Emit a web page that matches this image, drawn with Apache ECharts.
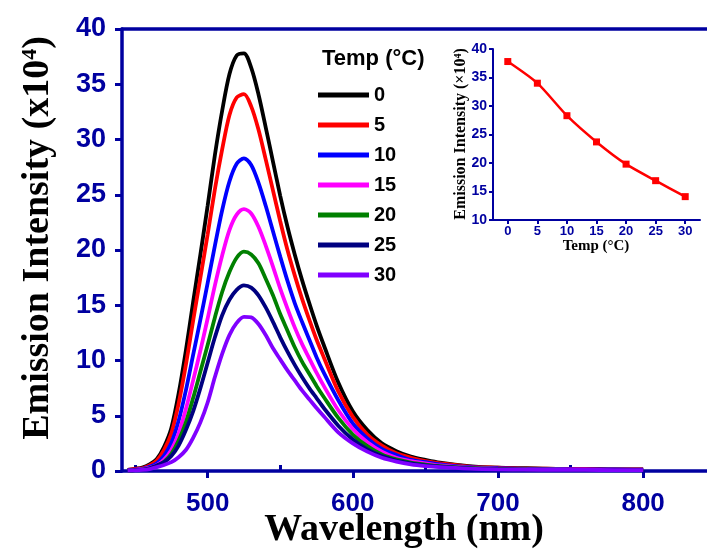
<!DOCTYPE html>
<html><head><meta charset="utf-8">
<script src="https://cdn.jsdelivr.net/npm/echarts@6/dist/echarts.min.js"></script>
<style>html,body{margin:0;padding:0;background:#fff}#c{width:707px;height:556px}</style>
</head><body><div id="c"></div>
<script>
// ---- data ----
const wavelengths = [445,450,455,460,465,470,475,480,485,490,495,500,505,510,515,520,525,530,535,540,545,550,555,560,565,570,575,580,590,600,610,620,630,640,650,660,680,700,720,740,760,780,800];
const temps = ['0','5','10','15','20','25','30'];
const int0  = [0.1,0.2,0.3,0.6,1.1,2.2,3.9,7.0,10.9,15.3,19.6,24.0,28.6,32.6,35.9,37.6,37.8,36.5,34.1,31.1,28.0,24.9,22.1,19.6,17.3,15.2,13.2,11.4,8.0,5.4,3.7,2.5,1.8,1.3,1.0,0.75,0.45,0.3,0.25,0.2,0.2,0.15,0.15];
const int5  = [0.1,0.2,0.25,0.5,0.95,1.9,3.4,6.1,9.6,13.6,17.5,21.4,25.5,29.1,32.2,33.8,34.1,33.0,30.9,28.2,25.4,22.6,20.0,17.7,15.6,13.7,11.9,10.3,7.2,4.9,3.3,2.3,1.6,1.2,0.9,0.7,0.4,0.3,0.22,0.2,0.18,0.15,0.15];
const int10 = [0.1,0.13,0.2,0.38,0.7,1.4,2.55,4.55,7.3,10.5,13.7,17.0,20.4,23.6,26.2,27.8,28.3,27.7,26.1,24.0,21.7,19.4,17.2,15.2,13.5,11.9,10.3,8.9,6.4,4.3,2.95,2.0,1.45,1.0,0.8,0.6,0.35,0.25,0.2,0.18,0.15,0.15,0.12];
const int15 = [0.06,0.1,0.16,0.28,0.53,1.03,1.9,3.4,5.6,8.2,10.9,13.8,16.8,19.5,21.8,23.2,23.7,23.3,22.1,20.4,18.5,16.5,14.7,13.0,11.5,10.2,8.9,7.7,5.5,3.8,2.6,1.75,1.2,0.9,0.7,0.5,0.3,0.2,0.16,0.14,0.12,0.1,0.1];
const int20 = [0.05,0.08,0.13,0.25,0.45,0.85,1.55,2.75,4.4,6.6,9.0,11.4,13.9,16.2,18.0,19.3,19.85,19.6,18.8,17.4,15.9,14.2,12.7,11.2,9.9,8.8,7.7,6.7,4.8,3.3,2.25,1.5,1.05,0.76,0.58,0.44,0.27,0.18,0.14,0.12,0.1,0.1,0.1];
const int25 = [0.05,0.08,0.13,0.25,0.5,0.8,1.35,2.3,3.7,5.4,7.5,9.8,12.1,14.1,15.5,16.4,16.8,16.6,15.9,14.8,13.5,12.1,10.8,9.6,8.5,7.5,6.6,5.7,4.1,2.85,1.95,1.35,0.95,0.7,0.5,0.4,0.24,0.16,0.13,0.11,0.1,0.09,0.09];
const int30 = [0.05,0.06,0.1,0.18,0.35,0.55,0.8,1.25,1.9,3.0,4.4,6.2,8.5,10.6,12.3,13.4,13.95,13.9,13.3,12.3,11.1,10.1,9.1,8.2,7.3,6.5,5.7,4.95,3.5,2.5,1.75,1.2,0.85,0.6,0.45,0.35,0.22,0.15,0.12,0.1,0.1,0.08,0.08];
const xTickLabels = [500,600,700,800];
const xMinorTicks = [450,550,650,750];
const insetTemps = [0,5,10,15,20,25,30];
const insetPeak = [37.8,34.0,28.3,23.7,19.8,16.9,14.1];

// ---- styling ----
const seriesVals = [int0,int5,int10,int15,int20,int25,int30];
const colors = ['#000000','#ff0000','#0000ff','#ff00ff','#008000','#000080','#8000ff'];
const AX = '#0000a0';
const SANS = 'Liberation Sans';
const SERIF = 'Liberation Serif';
const XMIN = 441, XMAX = 844;

const chart = echarts.init(document.getElementById('c'), null, {renderer:'canvas'});

const series = temps.map((t,i)=>({
  type:'line', name:t, xAxisIndex:0, yAxisIndex:0,
  data: wavelengths.map((w,j)=>[w, seriesVals[i][j]]),
  symbol:'none', showSymbol:false, smooth:0.3,
  lineStyle:{width:3.8, color:colors[i]}, itemStyle:{color:colors[i]},
  z: 2 + i
}));
series.push({
  type:'line', name:'inset', xAxisIndex:3, yAxisIndex:1,
  data: insetTemps.map((t,i)=>[t, insetPeak[i]]),
  symbol:'rect', symbolSize:7, smooth:0.25,
  lineStyle:{width:2.5, color:'#ff0000'}, itemStyle:{color:'#ff0000'}
});

const option = {
  animation:false,
  backgroundColor:'#ffffff',
  grid:[
    {left:122, top:29, right:0, bottom:85, outerBoundsMode:'none'},
    {left:493, top:49, width:207, height:171, outerBoundsMode:'none'}
  ],
  xAxis:[
    {type:'value', gridIndex:0, position:'bottom', min:XMIN, max:XMAX,
     axisLine:{show:true, onZero:false, lineStyle:{color:AX, width:3.5}},
     axisTick:{show:true, customValues:xTickLabels, length:7, lineStyle:{color:AX, width:3}},
     axisLabel:{show:true, customValues:xTickLabels, margin:20, color:AX, fontFamily:SANS, fontWeight:'bold', fontSize:26},
     splitLine:{show:false}},
    {type:'value', gridIndex:0, position:'bottom', min:XMIN, max:XMAX,
     axisLine:{show:false, onZero:false},
     axisTick:{show:true, inside:true, customValues:xMinorTicks, length:6, lineStyle:{color:AX, width:3}},
     axisLabel:{show:false}, splitLine:{show:false}},
    {type:'value', gridIndex:0, position:'top', min:XMIN, max:XMAX,
     axisLine:{show:true, onZero:false, lineStyle:{color:AX, width:3.5}},
     axisTick:{show:false}, axisLabel:{show:false}, splitLine:{show:false}},
    {type:'value', gridIndex:1, position:'bottom', min:-2.5, max:32.5,
     axisLine:{show:true, onZero:false, lineStyle:{color:AX, width:2}},
     axisTick:{show:true, customValues:insetTemps, length:4, lineStyle:{color:AX, width:2}},
     axisLabel:{show:true, customValues:insetTemps, margin:5, color:AX, fontFamily:SANS, fontWeight:'bold', fontSize:13},
     splitLine:{show:false}}
  ],
  yAxis:[
    {type:'value', gridIndex:0, min:0, max:40, interval:5,
     axisLine:{show:true, onZero:false, lineStyle:{color:AX, width:3.5}},
     axisTick:{show:true, length:7, lineStyle:{color:AX, width:3}},
     axisLabel:{margin:16, color:AX, fontFamily:SANS, fontWeight:'bold', fontSize:27},
     splitLine:{show:false}},
    {type:'value', gridIndex:1, min:10, max:40, interval:5,
     axisLine:{show:true, onZero:false, lineStyle:{color:AX, width:2}},
     axisTick:{show:true, length:4, lineStyle:{color:AX, width:2}},
     axisLabel:{margin:6, color:AX, fontFamily:SANS, fontWeight:'bold', fontSize:14},
     splitLine:{show:false}}
  ],
  legend:{
    data:temps, orient:'vertical', left:313, top:80, itemWidth:51, itemHeight:5, itemGap:10,
    icon:'rect', selectedMode:false,
    textStyle:{fontFamily:SANS, fontWeight:'bold', fontSize:20, color:'#000', lineHeight:20}
  },
  graphic:[
    {type:'text', x:38, y:238, rotation:Math.PI/2,
     style:{text:'Emission Intensity (x10{sup|4})', font:'bold 38px "'+SERIF+'"', fill:'#000',
            rich:{sup:{fontFamily:SERIF, fontWeight:'bold', fontSize:22, verticalAlign:'top', fill:'#000'}},
            align:'center', verticalAlign:'middle', textAlign:'center', textVerticalAlign:'middle'}},
    {type:'text', x:404, y:530,
     style:{text:'Wavelength (nm)', font:'bold 38px "'+SERIF+'"', fill:'#000',
            align:'center', verticalAlign:'middle', textAlign:'center', textVerticalAlign:'middle'}},
    {type:'text', x:322, y:59,
     style:{text:'Temp (°C)', font:'bold 22px "'+SANS+'"', fill:'#000',
            align:'left', verticalAlign:'middle', textAlign:'left', textVerticalAlign:'middle'}},
    {type:'text', x:461, y:134, rotation:Math.PI/2,
     style:{text:'Emission Intensity (×10{sup|4})', font:'bold 16px "'+SERIF+'"', fill:'#000',
            rich:{sup:{fontFamily:SERIF, fontWeight:'bold', fontSize:10, verticalAlign:'top', fill:'#000'}},
            align:'center', verticalAlign:'middle', textAlign:'center', textVerticalAlign:'middle'}},
    {type:'text', x:596, y:246,
     style:{text:'Temp (°C)', font:'bold 15px "'+SERIF+'"', fill:'#000',
            align:'center', verticalAlign:'middle', textAlign:'center', textVerticalAlign:'middle'}}
  ],
  series: series
};
chart.setOption(option);
</script>
</body></html>
